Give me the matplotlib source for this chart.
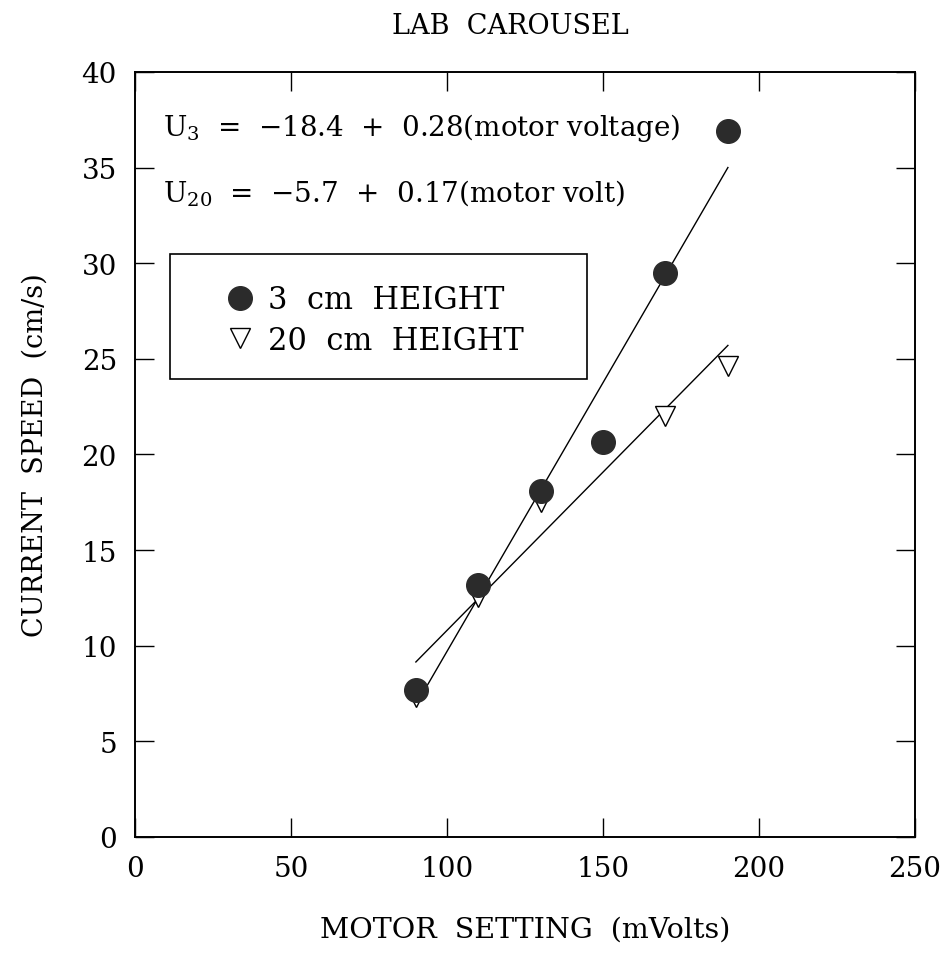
import matplotlib
matplotlib.use("Agg")
import matplotlib.pyplot as plt
from matplotlib.patches import Rectangle

plt.rcParams['font.family'] = ['DejaVu Serif']
plt.rcParams['mathtext.fontset'] = 'dejavuserif'

# data
motor_3 = [90, 110, 130, 150, 170, 190]
speed_3 = [7.7, 13.2, 18.1, 20.65, 29.5, 36.9]
motor_20 = [90, 110, 130, 170, 190]
speed_20 = [7.3, 12.55, 17.5, 22.0, 24.6]
# fitted lines (end points)
fit_x = [90, 190]
fit_3 = [6.9, 35.0]
fit_20 = [9.15, 25.7]

fig = plt.figure(figsize=(9.49, 9.54), dpi=100)
ax = fig.add_axes([0.1423, 0.1216, 0.822, 0.802])

ax.plot(fit_x, fit_3, color='black', lw=1.0)
ax.plot(fit_x, fit_20, color='black', lw=1.0)
ax.plot(motor_20, speed_20, 'v', ms=15, mfc='white', mec='black', mew=1.0,
        label='20  cm  HEIGHT', zorder=3)
ax.plot(motor_3, speed_3, 'o', ms=17, mfc='#2b2b2b', mec='#2b2b2b',
        label='3  cm  HEIGHT', zorder=4)

ax.set_xlim(0, 250)
ax.set_ylim(0, 40)
ax.set_xticks([0, 50, 100, 150, 200, 250])
ax.set_yticks(range(0, 41, 5))
ax.tick_params(direction='in', length=14, width=1, top=True, right=True,
               labelsize=20, pad=13)
for s in ax.spines.values():
    s.set_linewidth(1.4)

ax.set_xlabel('MOTOR  SETTING  (mVolts)', fontsize=20.5, labelpad=24)
ax.set_ylabel('CURRENT  SPEED  (cm/s)', fontsize=19.5, labelpad=24)
fig.text(0.538, 0.972, 'LAB  CAROUSEL', fontsize=19.5, ha='center', va='center')

ax.text(9, 37.1, r'U$_3$  =  $-$18.4  +  0.28(motor voltage)', fontsize=20, va='center')
ax.text(9, 33.7, r'U$_{20}$  =  $-$5.7  +  0.17(motor volt)', fontsize=20, va='center')

# legend box
ax.add_patch(Rectangle((35 / 780, (838 - 380) / 765), (587 - 170) / 780, 125 / 765,
                       transform=ax.transAxes, fill=False, ec='black', lw=1.2, zorder=5))
h, l = ax.get_legend_handles_labels()
leg = ax.legend(h[::-1], l[::-1], loc='upper left',
                bbox_to_anchor=(35 / 780, (838 - 255) / 765),
                fontsize=22, frameon=False, borderpad=1.0,
                handletextpad=-0.4, labelspacing=0.3, borderaxespad=0,
                handlelength=2.6)

fig.savefig('out.png', dpi=100)
